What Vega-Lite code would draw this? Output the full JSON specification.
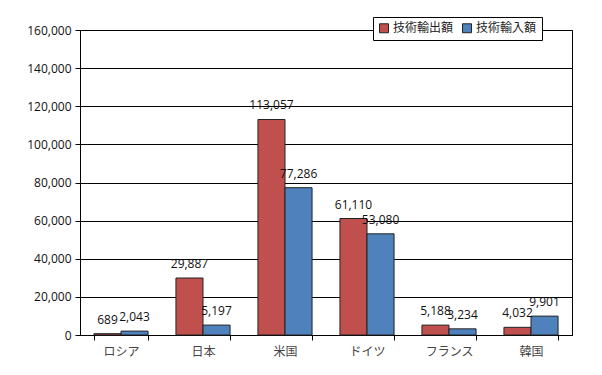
{
  "$schema": "https://vega.github.io/schema/vega-lite/v6.json",
  "autosize": {"type": "none"},
  "width": 492,
  "height": 305,
  "padding": {"left": 80, "top": 30, "right": 30, "bottom": 40},
  "background": "white",
  "config": {
    "view": {"stroke": "black", "strokeWidth": 1},
    "font": "Open Sans"
  },
  "data": {
    "values": [
      {"country": "ロシア", "series": "技術輸出額", "value": 689},
      {"country": "ロシア", "series": "技術輸入額", "value": 2043},
      {"country": "日本", "series": "技術輸出額", "value": 29887},
      {"country": "日本", "series": "技術輸入額", "value": 5197},
      {"country": "米国", "series": "技術輸出額", "value": 113057},
      {"country": "米国", "series": "技術輸入額", "value": 77286},
      {"country": "ドイツ", "series": "技術輸出額", "value": 61110},
      {"country": "ドイツ", "series": "技術輸入額", "value": 53080},
      {"country": "フランス", "series": "技術輸出額", "value": 5188},
      {"country": "フランス", "series": "技術輸入額", "value": 3234},
      {"country": "韓国", "series": "技術輸出額", "value": 4032},
      {"country": "韓国", "series": "技術輸入額", "value": 9901}
    ]
  },
  "encoding": {
    "x": {
      "field": "country",
      "type": "nominal",
      "sort": ["ロシア", "日本", "米国", "ドイツ", "フランス", "韓国"],
      "scale": {"paddingInner": 0.34, "paddingOuter": 0.17},
      "axis": {
        "title": null,
        "labelAngle": 0,
        "labelFont": "Noto Sans CJK JP",
        "labelFontSize": 12,
        "labelColor": "#444",
        "labelPadding": 6,
        "tickBand": "extent",
        "ticks": true,
        "tickSize": 5,
        "tickColor": "black",
        "domainColor": "black",
        "grid": false
      }
    },
    "xOffset": {
      "field": "series",
      "type": "nominal",
      "scale": {"domain": ["技術輸出額", "技術輸入額"]}
    },
    "y": {
      "field": "value",
      "type": "quantitative",
      "scale": {"domain": [0, 160000]},
      "axis": {
        "title": null,
        "values": [0, 20000, 40000, 60000, 80000, 100000, 120000, 140000, 160000],
        "format": ",d",
        "labelFontSize": 12,
        "labelColor": "#111",
        "labelPadding": 4,
        "tickSize": 5,
        "tickColor": "black",
        "domainColor": "black",
        "gridColor": "black",
        "gridOpacity": 1,
        "gridWidth": 1
      }
    }
  },
  "layer": [
    {
      "mark": {"type": "bar", "stroke": "#222", "strokeWidth": 1},
      "encoding": {
        "color": {
          "field": "series",
          "type": "nominal",
          "scale": {"domain": ["技術輸出額", "技術輸入額"], "range": ["#C0504D", "#4F81BD"]},
          "legend": {
            "title": null,
            "orient": "none",
            "legendX": 293,
            "legendY": -13,
            "direction": "horizontal",
            "symbolType": "square",
            "symbolSize": 80,
            "symbolStrokeColor": "#222",
            "symbolStrokeWidth": 1,
            "labelFont": "Noto Sans CJK JP",
            "labelFontSize": 12,
            "labelColor": "#222",
            "labelOffset": 3,
            "columnPadding": 6,
            "padding": 5,
            "strokeColor": "black",
            "fillColor": "white"
          }
        }
      }
    },
    {
      "mark": {"type": "text", "baseline": "alphabetic", "dy": -10, "fontSize": 12, "color": "#111"},
      "encoding": {
        "text": {"field": "value", "type": "quantitative", "format": ",d"}
      }
    }
  ]
}
